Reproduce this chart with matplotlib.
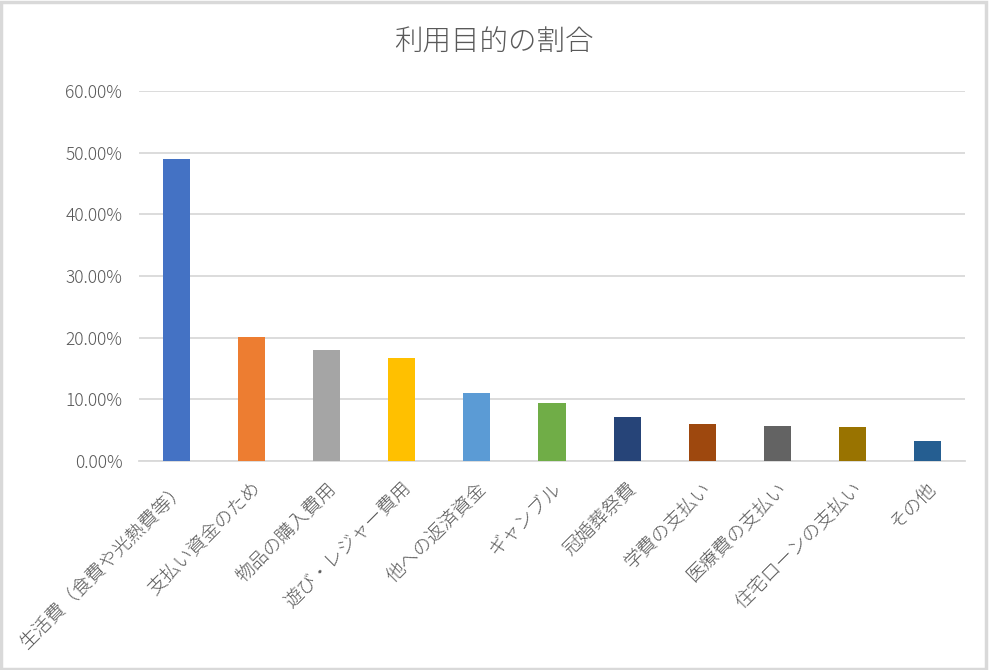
import matplotlib.pyplot as plt
from matplotlib.patches import Rectangle
from matplotlib.ticker import FuncFormatter

plt.rcParams['font.family'] = ['Noto Sans CJK JP', 'DejaVu Sans']

# 利用目的ごとの割合 (%)
categories = ['生活費（食費や光熱費等）', '支払い資金のため', '物品の購入費用', '遊び・レジャー費用',
              '他への返済資金', 'ギャンブル', '冠婚葬祭費', '学費の支払い', '医療費の支払い',
              '住宅ローンの支払い', 'その他']
values = [49.0, 20.1, 18.0, 16.7, 11.0, 9.4, 7.1, 6.0, 5.7, 5.5, 3.2]
colors = ['#4472C4', '#ED7D31', '#A5A5A5', '#FFC000', '#5B9BD5', '#70AD47',
          '#264478', '#9E480E', '#636363', '#997300', '#255E91']
yticks = [0, 10, 20, 30, 40, 50, 60]

txt = '#595959'
grid = '#D9D9D9'

fig = plt.figure(figsize=(9.89, 6.70), dpi=100)
ax = fig.add_axes([139/989, 1 - 461/670, 826/989, 370/670])

x = range(len(categories))
ax.bar(x, values, width=0.36, color=colors, zorder=3)

ax.set_xlim(-0.5, len(categories) - 0.5)
ax.set_ylim(0, 60)
ax.set_yticks(yticks)
ax.yaxis.set_major_formatter(FuncFormatter(lambda v, p: f'{v:.2f}%'))
ax.grid(axis='y', color=grid, linewidth=1.3, zorder=0)
for s in ['top', 'right', 'left']:
    ax.spines[s].set_visible(False)
ax.spines['bottom'].set_color(grid)
ax.spines['bottom'].set_linewidth(1.3)
ax.tick_params(axis='both', length=0, colors=txt, labelsize=12.5)
ax.tick_params(axis='y', pad=12)

ax.set_xticks(list(x))
ax.set_xticklabels(categories, rotation=45, ha='right', rotation_mode='anchor',
                   fontsize=13.6, color=txt, fontweight='light')
ax.tick_params(axis='x', pad=13)
for lab in ax.get_yticklabels():
    lab.set_fontweight('light')

fig.text(0.4995, 1 - 42/670, '利用目的の割合', ha='center', va='center',
         fontsize=20.5, color=txt, fontweight='light')

# 外枠
fig.patches.append(Rectangle((0.001, 0.002), 0.996, 0.995, transform=fig.transFigure,
                             fill=False, edgecolor=grid, linewidth=2.5))

fig.savefig('out.png', dpi=100, facecolor='white')
